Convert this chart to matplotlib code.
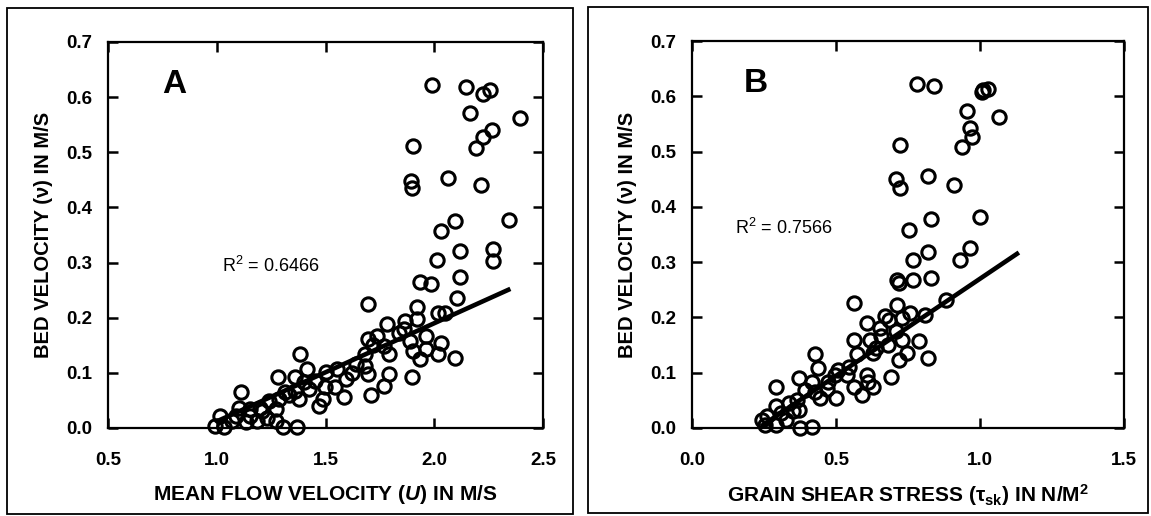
import matplotlib
matplotlib.use("Agg")
import matplotlib.pyplot as plt
from matplotlib.patches import Rectangle
import numpy as np

plt.rcParams['font.family'] = ['Liberation Sans', 'DejaVu Sans']
plt.rcParams['mathtext.fontset'] = 'custom'
plt.rcParams['mathtext.rm'] = 'Liberation Sans'
plt.rcParams['mathtext.it'] = 'Liberation Sans:italic'
plt.rcParams['mathtext.bf'] = 'Liberation Sans:bold'
plt.rcParams['mathtext.bfit'] = 'Liberation Sans:italic:bold'

# Panel A: mean flow velocity U (m/s) vs bed velocity v (m/s)
flow_u = [1.989, 2.144, 2.256, 2.224, 2.165, 2.392, 2.264, 2.224, 2.192, 1.904,
          1.891, 1.899, 2.064, 2.216, 2.344, 2.096, 2.032, 2.120, 2.269, 2.269,
          2.013, 1.936, 1.984, 2.120, 2.104, 1.696, 1.920, 2.016, 2.048, 1.864,
          1.920, 1.784, 1.736, 1.840, 1.888, 1.696, 1.960, 2.032, 1.960, 2.016,
          2.096, 1.936, 1.904, 1.792, 1.768, 1.680, 1.680, 1.640, 1.696, 1.792,
          1.768, 1.896, 1.709, 1.592, 1.552, 1.584, 1.504, 1.496, 1.488, 1.472,
          1.544, 1.384, 1.416, 1.360, 1.400, 1.424, 1.280, 1.312, 1.360, 1.376,
          1.288, 1.240, 1.112, 1.104, 1.152, 1.200, 1.272, 1.184, 1.152, 1.232,
          1.272, 1.072, 1.016, 0.992, 1.032, 1.136, 1.304, 1.368, 1.088,
          1.620, 1.720, 1.860, 1.450, 1.330, 1.210]
bed_v_a = [0.622, 0.618, 0.613, 0.606, 0.572, 0.562, 0.540, 0.527, 0.508, 0.511,
           0.448, 0.436, 0.454, 0.441, 0.378, 0.375, 0.358, 0.321, 0.324, 0.303,
           0.304, 0.264, 0.261, 0.273, 0.235, 0.224, 0.220, 0.209, 0.209, 0.194,
           0.197, 0.189, 0.167, 0.173, 0.158, 0.161, 0.167, 0.155, 0.143, 0.134,
           0.127, 0.125, 0.140, 0.134, 0.149, 0.134, 0.113, 0.116, 0.098, 0.098,
           0.077, 0.092, 0.060, 0.089, 0.107, 0.056, 0.101, 0.074, 0.053, 0.040,
           0.074, 0.134, 0.107, 0.092, 0.083, 0.071, 0.092, 0.065, 0.068, 0.053,
           0.053, 0.049, 0.065, 0.037, 0.034, 0.037, 0.034, 0.013, 0.022, 0.019,
           0.013, 0.013, 0.022, 0.004, 0.001, 0.010, 0.001, 0.002, 0.022,
           0.100, 0.150, 0.180, 0.085, 0.060, 0.030]
fit_a = {"slope": 0.178, "intercept": -0.166, "x0": 1.0, "x1": 2.35, "r2": "0.6466"}

# Panel B: grain shear stress tau_sk (N/m^2) vs bed velocity v (m/s)
shear_tau = [0.781, 0.840, 1.011, 1.028, 1.006, 1.067, 0.955, 0.966, 0.972, 0.938,
             0.721, 0.708, 0.721, 0.820, 0.910, 0.999, 0.831, 0.753, 0.820, 0.966,
             0.929, 0.766, 0.766, 0.831, 0.719, 0.713, 0.882, 0.562, 0.713, 0.809,
             0.758, 0.730, 0.669, 0.685, 0.607, 0.652, 0.562, 0.573, 0.618, 0.657,
             0.629, 0.708, 0.730, 0.787, 0.747, 0.719, 0.820, 0.691, 0.607, 0.612,
             0.629, 0.590, 0.562, 0.539, 0.506, 0.495, 0.472, 0.500, 0.427, 0.438,
             0.371, 0.416, 0.427, 0.444, 0.393, 0.365, 0.337, 0.292, 0.292, 0.309,
             0.371, 0.326, 0.259, 0.242, 0.253, 0.292, 0.376, 0.416,
             0.545, 0.640, 0.470, 0.350, 0.680]
bed_v_b = [0.622, 0.619, 0.611, 0.614, 0.607, 0.563, 0.574, 0.542, 0.527, 0.509,
           0.512, 0.450, 0.434, 0.455, 0.440, 0.381, 0.378, 0.358, 0.319, 0.325,
           0.304, 0.303, 0.268, 0.271, 0.262, 0.267, 0.232, 0.226, 0.223, 0.205,
           0.208, 0.199, 0.202, 0.196, 0.190, 0.181, 0.160, 0.133, 0.160, 0.166,
           0.136, 0.175, 0.160, 0.157, 0.136, 0.123, 0.127, 0.092, 0.096, 0.084,
           0.075, 0.060, 0.075, 0.096, 0.105, 0.096, 0.084, 0.054, 0.133, 0.108,
           0.090, 0.084, 0.066, 0.054, 0.069, 0.051, 0.045, 0.075, 0.039, 0.027,
           0.033, 0.015, 0.021, 0.015, 0.006, 0.006, 0.000, 0.002,
           0.110, 0.145, 0.070, 0.030, 0.150]
fit_b = {"slope": 0.351, "intercept": -0.081, "x0": 0.24, "x1": 1.135, "r2": "0.7566"}

y_ticks = [0.0, 0.1, 0.2, 0.3, 0.4, 0.5, 0.6, 0.7]
x_ticks_a = [0.5, 1.0, 1.5, 2.0, 2.5]
x_ticks_b = [0.0, 0.5, 1.0, 1.5]

W, H = 1151, 516
fig = plt.figure(figsize=(W / 100, H / 100), dpi=100)

# outer frames around each panel
for (x0, y0, x1, y1) in [(7, 8, 573, 514), (588, 7, 1148, 513)]:
    fig.add_artist(Rectangle((x0 / W, 1 - y1 / H), (x1 - x0) / W, (y1 - y0) / H,
                             transform=fig.transFigure, fill=False,
                             edgecolor='black', lw=1.3))


def panel(rect, xs, ys, fit, xlim, xticks, xlabel, letter, letter_pos, r2_pos):
    x0, y0, x1, y1 = rect
    ax = fig.add_axes([x0 / W, 1 - y1 / H, (x1 - x0) / W, (y1 - y0) / H])
    ax.plot(xs, ys, linestyle='none', marker='o', markersize=9.6,
            markerfacecolor='none', markeredgecolor='black',
            markeredgewidth=2.2, clip_on=False, zorder=3)
    lx = np.array([fit["x0"], fit["x1"]])
    ax.plot(lx, fit["slope"] * lx + fit["intercept"], color='black',
            lw=3.3, solid_capstyle='butt', zorder=4)
    ax.set_xlim(*xlim)
    ax.set_ylim(0, 0.7)
    ax.set_xticks(xticks)
    ax.set_yticks(y_ticks)
    ax.set_xticklabels([f"{t:.1f}" for t in xticks])
    ax.set_yticklabels([f"{t:.1f}" for t in y_ticks])
    ax.tick_params(direction='in', length=7, width=1.8, top=True, right=True,
                   labelsize=13.5)
    ax.tick_params(axis='x', pad=17)
    ax.tick_params(axis='y', pad=11)
    for lab in ax.get_xticklabels() + ax.get_yticklabels():
        lab.set_fontweight('bold')
    for s in ax.spines.values():
        s.set_linewidth(1.6)
    ax.set_xlabel(xlabel, fontsize=15, fontweight='bold', labelpad=10)
    ax.set_ylabel('BED VELOCITY (ν) IN M/S', fontsize=14.5, fontweight='bold',
                  labelpad=10)
    ax.text(letter_pos[0], letter_pos[1], letter, transform=ax.transAxes,
            fontsize=24, fontweight='bold', ha='left', va='center')
    ax.text(r2_pos[0], r2_pos[1], r'R$^{2}$ = ' + fit["r2"],
            transform=ax.transAxes, fontsize=13, ha='left', va='center')
    return ax


panel((108, 42, 543, 428), flow_u, bed_v_a, fit_a, (0.5, 2.5), x_ticks_a,
      r'MEAN FLOW VELOCITY ($\mathbfit{U}$) IN M/S', 'A', (0.125, 0.89),
      (0.262, 0.42))
panel((692, 41, 1124, 428), shear_tau, bed_v_b, fit_b, (0.0, 1.5), x_ticks_b,
      r'GRAIN SHEAR STRESS ($\mathbf{\tau_{sk}}$) IN N/M$^{\mathbf{2}}$', 'B',
      (0.12, 0.89), (0.10, 0.517))

fig.savefig('out.png', dpi=100)
